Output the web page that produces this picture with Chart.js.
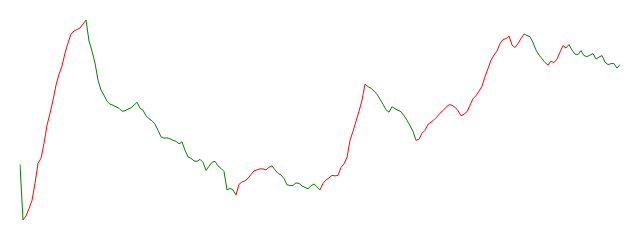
<!DOCTYPE html>
<html>
<head>
<meta charset="utf-8">
<script src="https://cdn.jsdelivr.net/npm/chart.js@4/dist/chart.umd.min.js"></script>
<style>
  html, body { margin: 0; padding: 0; background: #fff; }
  #wrap { width: 640px; height: 240px; }
</style>
</head>
<body>
<div id="wrap"><canvas id="c" width="640" height="240"></canvas></div>
<script>
// Series values (one per period)
const values = [
  56, 0.5, 4.5, 12, 20, 37, 57, 62, 77, 95,
  107, 120, 135, 146, 154, 167, 177, 186, 189, 190.5,
  192, 196, 200, 179, 169, 157, 140, 130, 125, 119,
  116, 115, 113.5, 112, 109, 109.5, 111, 112.5, 115, 118,
  112, 110, 104.5, 101.5, 99.5, 96, 90, 83.5, 82, 82.5,
  81.5, 80, 79, 76.5, 78.5, 70, 63.5, 62, 59.5, 59,
  61, 58, 50, 54, 58, 59, 54.5, 52, 49, 30.5,
  32, 30.5, 25.5, 36, 38.5, 39.5, 42, 46, 49.5, 50.5,
  51.5, 51.5, 50.5, 53, 54.5, 50.5, 47, 45.5, 42, 35.5,
  35, 35, 37.5, 37, 34.5, 33, 31.7, 34.5, 36.5, 33.5,
  30.5, 37, 40.5, 42.5, 45, 44.5, 45, 53, 56.5, 63,
  80, 89, 99, 109, 120, 136, 133.5, 132, 129, 126,
  121, 116, 110.5, 108, 113.5, 111.5, 110, 108.5, 104.5, 100,
  94.5, 89, 80, 81, 87, 90, 96, 98, 100.5, 103.5,
  107, 109.7, 113, 115.5, 115, 113, 109.5, 104.5, 106, 108.5,
  115, 121.5, 124.5, 129, 134, 143.5, 151.5, 160, 165, 169,
  176.5, 180.5, 181.5, 184, 175, 172.5, 176.5, 181.5, 186, 184.5,
  183.3, 177.5, 170, 165, 161.5, 157.5, 155, 159, 157.5, 161,
  168, 174.5, 172, 175.5, 170, 166, 165.5, 169.5, 164.5, 163.5,
  165, 166.5, 161, 163, 164.5, 158, 155.5, 156.5, 156.5, 152,
  155.5
];
// Category labels (period numbers)
const periods = values.map((_, i) => i + 1);
// Swing reversal threshold for trend colouring
const swingThreshold = 16;
const upColor = 'rgb(255,0,0)';
const downColor = 'rgb(0,128,0)';

// Zigzag swing detection -> direction for each segment
function segmentDirections(v, th) {
  const piv = [0];
  let trend = 0, ext = 0;
  for (let i = 1; i < v.length; i++) {
    if (trend === 0) {
      if (v[i] - v[0] >= th) { trend = 1; ext = i; }
      else if (v[0] - v[i] >= th) { trend = -1; ext = i; }
    } else if (trend === 1) {
      if (v[i] > v[ext]) ext = i;
      else if (v[ext] - v[i] >= th) { piv.push(ext); trend = -1; ext = i; }
    } else {
      if (v[i] < v[ext]) ext = i;
      else if (v[i] - v[ext] >= th) { piv.push(ext); trend = 1; ext = i; }
    }
  }
  if (piv[piv.length - 1] !== v.length - 1) piv.push(v.length - 1);
  const dirs = new Array(v.length - 1);
  for (let k = 0; k < piv.length - 1; k++) {
    const up = v[piv[k + 1]] > v[piv[k]];
    for (let i = piv[k]; i < piv[k + 1]; i++) dirs[i] = up;
  }
  return dirs;
}
const dirs = segmentDirections(values, swingThreshold);

new Chart(document.getElementById('c'), {
  type: 'line',
  data: {
    labels: periods,
    datasets: [{
      data: values,
      borderWidth: 1,
      pointRadius: 0,
      tension: 0,
      fill: false,
      borderColor: downColor,
      segment: {
        borderColor: ctx => dirs[ctx.p0DataIndex] ? upColor : downColor
      }
    }]
  },
  options: {
    responsive: false,
    animation: false,
    layout: { padding: { left: 20, right: 20, top: 20, bottom: 20 } },
    plugins: { legend: { display: false }, tooltip: { enabled: false } },
    scales: {
      x: { display: false, offset: false },
      y: { display: false, min: Math.min(...values), max: Math.max(...values) }
    }
  }
});
</script>
</body>
</html>
